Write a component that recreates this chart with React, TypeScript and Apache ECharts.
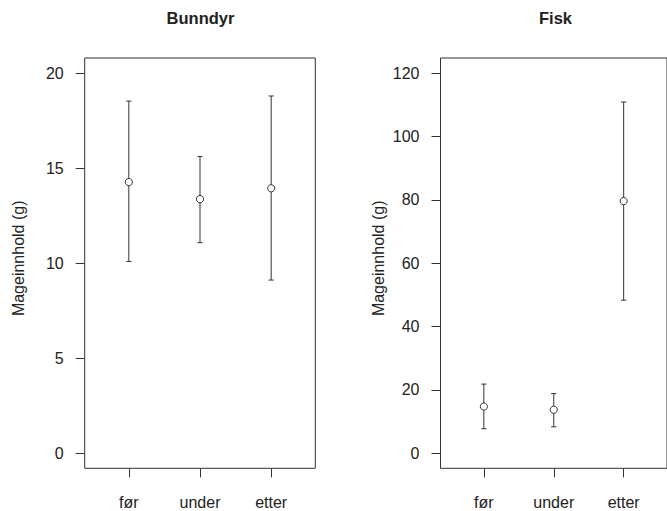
import React, { useEffect, useRef } from "react";
import * as echarts from "echarts";

const categories = ["før", "under", "etter"];
const bunndyrMean = [14.27, 13.37, 13.94];
const bunndyrLower = [10.09, 11.08, 9.11];
const bunndyrUpper = [18.53, 15.61, 18.8];
const fiskMean = [14.7, 13.7, 79.6];
const fiskLower = [7.7, 8.3, 48.3];
const fiskUpper = [21.8, 18.8, 110.9];
const bunndyrTicks = [0, 5, 10, 15, 20];
const fiskTicks = [0, 20, 40, 60, 80, 100, 120];
const xTicks = [1, 2, 3];
const yTitle = "Mageinnhold (g)";

const LINE = "#333";
const TEXT = "#222";
const FONT = "Liberation Sans";

function rows(mean: number[], lo: number[], hi: number[]) {
  return mean.map((m, i) => [i + 1, m, lo[i], hi[i]]);
}

const renderItem = (params: any, api: any) => {
  const x = api.value(0);
  const pM = api.coord([x, api.value(1)]);
  const pLo = api.coord([x, api.value(2)]);
  const pHi = api.coord([x, api.value(3)]);
  const cap = 2.6;
  const st = { stroke: LINE, lineWidth: 1 };
  return {
    type: "group",
    children: [
      { type: "line", shape: { x1: pHi[0], y1: pHi[1], x2: pLo[0], y2: pLo[1] }, style: st },
      { type: "line", shape: { x1: pHi[0] - cap, y1: pHi[1], x2: pHi[0] + cap, y2: pHi[1] }, style: st },
      { type: "line", shape: { x1: pLo[0] - cap, y1: pLo[1], x2: pLo[0] + cap, y2: pLo[1] }, style: st },
      { type: "circle", shape: { cx: pM[0], cy: pM[1], r: 3.6 }, style: { fill: "#fff", stroke: LINE, lineWidth: 1 } },
    ],
  };
};

function xAxisFor(gridIndex: number) {
  return {
    type: "value",
    gridIndex,
    position: "bottom",
    min: 0.38,
    max: 3.62,
    axisLine: { show: false, onZero: false },
    splitLine: { show: false },
    axisTick: { show: true, length: 9, customValues: xTicks, lineStyle: { color: LINE } },
    axisLabel: {
      show: true,
      customValues: xTicks,
      margin: 26,
      color: TEXT,
      fontSize: 16,
      fontFamily: FONT,
      formatter: (v: number) => categories[Math.round(v) - 1] ?? "",
    },
  };
}

function yAxisFor(gridIndex: number, min: number, max: number, ticks: number[]) {
  return {
    type: "value",
    gridIndex,
    position: "left",
    min,
    max,
    axisLine: { show: false, onZero: false },
    splitLine: { show: false },
    axisTick: { show: true, length: 9, customValues: ticks, lineStyle: { color: LINE } },
    axisLabel: { show: true, customValues: ticks, margin: 21, color: TEXT, fontSize: 16, fontFamily: FONT },
  };
}

function label(text: string, x: number, y: number, size: number, weight: string, rotation = 0) {
  return {
    type: "text",
    x,
    y,
    rotation,
    style: { text, fontSize: size, fontWeight: weight, fontFamily: FONT, fill: TEXT, align: "center", verticalAlign: "middle" },
  };
}

export default function App() {
  const ref = useRef<HTMLDivElement>(null);
  useEffect(() => {
    if (!ref.current) return;
    const chart = echarts.init(ref.current, null, { renderer: "svg" });
    const gridTop = 58;
    const gridH = 410.3;
    chart.setOption({
      animation: false,
      backgroundColor: "#fff",
      grid: [
        { left: 84.7, top: gridTop, width: 230.6, height: gridH, show: true, borderColor: LINE, borderWidth: 1, backgroundColor: "transparent" },
        { left: 440.5, top: gridTop, width: 230.6, height: gridH, show: true, borderColor: LINE, borderWidth: 1, backgroundColor: "transparent" },
      ],
      xAxis: [xAxisFor(0), xAxisFor(1)],
      yAxis: [yAxisFor(0, -0.8, 20.8, bunndyrTicks), yAxisFor(1, -4.8, 124.8, fiskTicks)],
      series: [
        { type: "custom", xAxisIndex: 0, yAxisIndex: 0, renderItem, data: rows(bunndyrMean, bunndyrLower, bunndyrUpper), clip: false },
        { type: "custom", xAxisIndex: 1, yAxisIndex: 1, renderItem, data: rows(fiskMean, fiskLower, fiskUpper), clip: false },
      ],
      graphic: [
        label("Bunndyr", 200.5, 17.5, 16.5, "bold"),
        label("Fisk", 555.5, 17.5, 16.5, "bold"),
        label(yTitle, 18.3, 258.3, 16, "normal", Math.PI / 2),
        label(yTitle, 378, 258.3, 16, "normal", Math.PI / 2),
      ],
    });
    return () => chart.dispose();
  }, []);
  return <div ref={ref} style={{ position: "fixed", left: 0, top: 0, width: 667, height: 511 }} />;
}
